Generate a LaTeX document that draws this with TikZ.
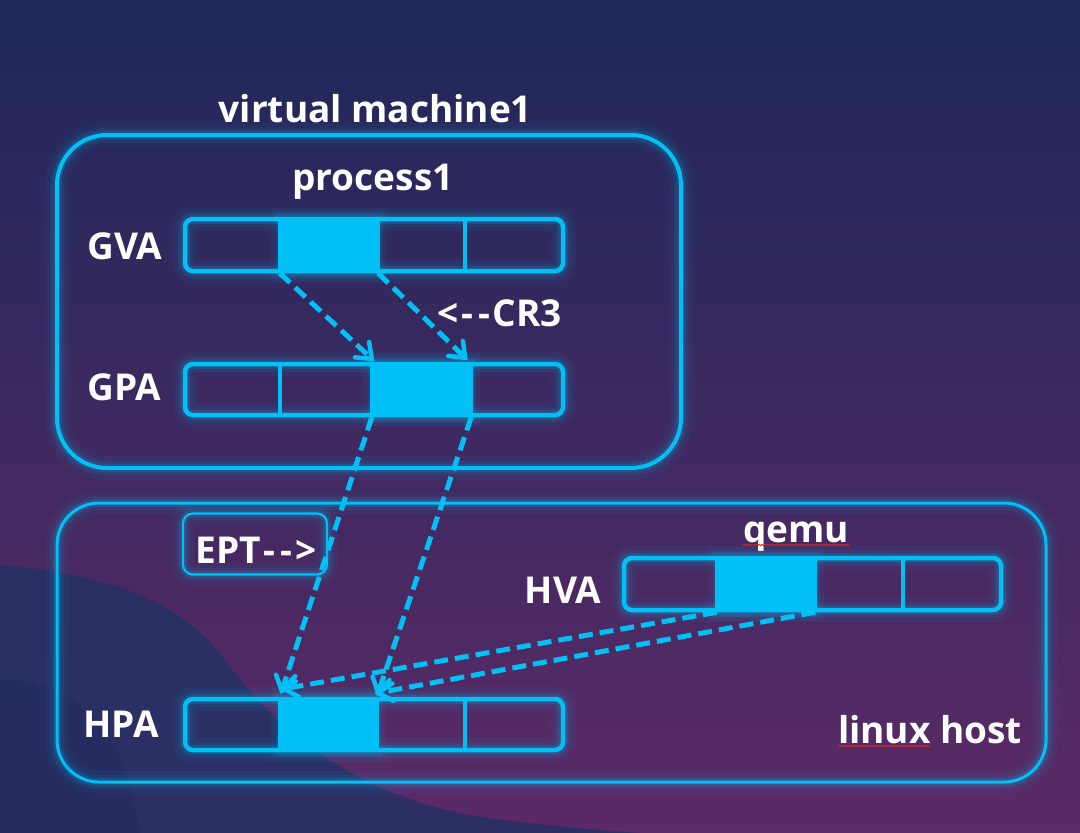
\documentclass[tikz,border=0pt]{standalone}
\usepackage{fontspec}
\setmainfont{Open Sans}
\usetikzlibrary{calc,fit,decorations.pathmorphing}

\definecolor{neon}{RGB}{0,192,245}
\definecolor{bgtop}{RGB}{30,40,90}
\definecolor{bgmid}{RGB}{44,43,98}
\definecolor{bgbot}{RGB}{92,42,102}
\definecolor{blobc}{RGB}{36,48,100}
\definecolor{squig}{RGB}{210,40,40}

\tikzset{
  glowline/.style={draw=neon, line width=#1,
    preaction={draw=neon, opacity=0.05, line width=#1+20pt},
    preaction={draw=neon, opacity=0.08, line width=#1+11pt},
    preaction={draw=neon, opacity=0.15, line width=#1+5pt}},
  region/.style={rectangle, inner sep=0pt, glowline=#1},
  cell/.style={rectangle, inner sep=0pt},
  hotcell/.style={rectangle, inner sep=0pt, fill=neon,
    preaction={draw=neon, opacity=0.06, line width=18pt},
    preaction={draw=neon, opacity=0.10, line width=9pt}},
  barframe/.style={rectangle, inner sep=0pt, rounded corners=8pt, glowline=4.5pt},
  divider/.style={draw=neon, line width=3.4pt},
  lbl/.style={text=white, inner sep=0pt, anchor=base,
    font=\fontsize{37}{40}\selectfont\bfseries},
  flowshaft/.style={draw=neon, line width=5pt, dash pattern=on 14pt off 7pt,
    shorten >=3pt},
  flowhead/.style={draw=neon, line width=4.5pt, solid, line cap=round, line join=miter},
  spell/.style={draw=squig, line width=0.8pt, decorate,
    decoration={snake, amplitude=0.8pt, segment length=2.6pt}}
}

% one address row: name, top, bottom, five cell borders, highlighted cell
\newcommand\membar[9]{%
  \foreach \i/\a/\b in {1/#4/#5,2/#5/#6,3/#6/#7,4/#7/#8}{%
    \ifnum\i=#9\relax
      \node[hotcell, fit={(\a,#2-2) (\b,#3+2)}] (#1-\i) {};
    \else
      \node[cell, fit={(\a,#2) (\b,#3)}] (#1-\i) {};
    \fi
  }
  \node[barframe, fit={(#4,#2) (#8,#3)}] (#1) {};
  \foreach \i in {2,3,4}{%
    \draw[divider] (#1-\i.north west |- #1.north) -- (#1-\i.south west |- #1.south);
  }
}
% dashed mapping arrow with an open barbed head
\newcommand\mapping[2]{%
  \draw[flowshaft] (#1) -- (#2);
  \draw[flowhead] ($(#2)!17pt!38:(#1)$) -- (#2) -- ($(#2)!17pt!-38:(#1)$);
}
% spaced dashes in arrow-like labels
\newcommand\dsh{\kern2.5pt-\kern2.5pt}

\begin{document}
\begin{tikzpicture}[x=1pt,y=-1pt]
\useasboundingbox (0,0) rectangle (1080,833);
\clip (0,0) rectangle (1080,833);

% backdrop
\shade[top color=bgtop, middle color=bgmid, bottom color=bgbot] (0,0) rectangle (1080,833);
\fill[blobc, opacity=0.85] (0,565) .. controls (110,575) and (180,600) .. (225,660)
  .. controls (280,735) and (360,795) .. (470,815) .. controls (540,826) and (600,830) .. (640,833)
  -- (0,833) -- cycle;
\fill[bgtop, opacity=0.35] (0,680) .. controls (80,680) and (125,730) .. (140,833) -- (0,833) -- cycle;

% enclosing regions
\node[region=4pt, rounded corners=50pt, minimum width=624pt, minimum height=333pt] (vm) at (369,301.5) {};
\node[region=3pt, rounded corners=42pt, minimum width=989pt, minimum height=279pt] (host) at (551.5,642.5) {};
\node[region=2.2pt, rounded corners=10pt, minimum width=144pt, minimum height=61pt] (eptbox) at (255,544) {};

% address rows
\membar{gva}{219}{271}{185}{280}{378}{465}{563}{2}
\membar{gpa}{364}{415}{185}{280}{372}{471}{563}{3}
\membar{hva}{558}{610}{624}{717}{815}{903}{1001}{2}
\membar{hpa}{699}{750}{185}{280}{377}{465}{563}{2}

% labels
\node[lbl] (vmname) at (375.5,122) {virtual machine1};
\node[lbl] (proc) at (373,190) {process1};
\node[lbl] (gvalbl) at (125,259) {GVA};
\node[lbl] (gpalbl) at (124.5,400) {GPA};
\node[lbl] (cr3) at (500,326) {<\dsh\dsh CR3};
\node[lbl] (ept) at (256,563) {EPT\dsh\dsh>};
\node[lbl] (qemu) at (796,542) {qemu};
\node[lbl] (hvalbl) at (563,603) {HVA};
\node[lbl] (hpalbl) at (121,737) {HPA};
\node[lbl] (linux) at (930,743) {linux host};

% spelling marks under two words
\draw[spell] ($(qemu.base west)+(0,3)$) -- ($(qemu.base east)+(0,3)$);
\draw[spell] ($(linux.base west)+(0,3)$) -- ($(linux.base west)+(92,3)$);

% arrow ends, just short of the target cells
\coordinate (gpaA) at ($(gpa-3.north west)+(0,-3)$);
\coordinate (gpaB) at ($(gpa-3.north east)+(-6,-4)$);
\coordinate (hpaA) at ($(hpa-2.north west)+(2,-6)$);
\coordinate (hpaB) at ($(hpa-2.north east)+(1,-4)$);
\coordinate (hpaC) at ($(hpa-2.north west)+(4,-8)$);
\coordinate (hpaD) at ($(hpa-2.north east)+(1,-4)$);

% guest page walk
\mapping{gva-2.south west}{gpaA}
\mapping{gva-2.south east}{gpaB}
% EPT translation
\mapping{gpa-3.south west}{hpaA}
\mapping{gpa-3.south east}{hpaB}
% qemu mapping
\mapping{hva-2.south west}{hpaC}
\mapping{hva-2.south east}{hpaD}
\end{tikzpicture}
\end{document}
